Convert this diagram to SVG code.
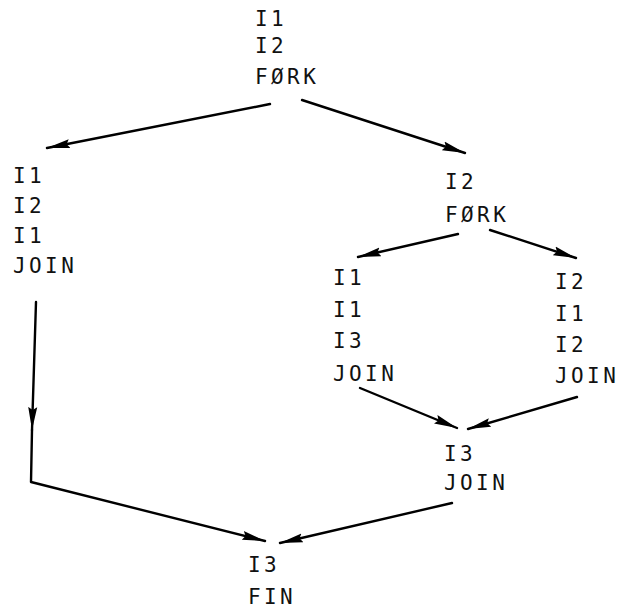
<svg xmlns="http://www.w3.org/2000/svg" width="621" height="610" viewBox="0 0 621 610">
<style>
  text { font-family: "DejaVu Sans Mono", "Liberation Mono", monospace; font-size: 21px; letter-spacing: 3.4px; fill: #111; }
  .edge { fill: none; stroke: #000; stroke-width: 2.4; stroke-linecap: round; stroke-linejoin: round; }
</style>
<defs>
  <marker id="ah" markerUnits="userSpaceOnUse" markerWidth="24" markerHeight="10" refX="23" refY="5" orient="auto">
    <path d="M0,0.5 L23,5 L0,9.5 L3,5 z" fill="#000"/>
  </marker>
</defs>
<rect width="621" height="610" fill="#fff"/>
<g id="connectors">
  <line class="edge" x1="270" y1="104" x2="47" y2="148" marker-end="url(#ah)"/>
  <line class="edge" x1="302" y1="100" x2="465" y2="153" marker-end="url(#ah)"/>
  <line class="edge" x1="458" y1="234" x2="358" y2="257" marker-end="url(#ah)"/>
  <line class="edge" x1="490" y1="230" x2="576" y2="258" marker-end="url(#ah)"/>
  <line class="edge" x1="360" y1="388" x2="457" y2="428" marker-end="url(#ah)"/>
  <line class="edge" x1="577" y1="397" x2="468" y2="429" marker-end="url(#ah)"/>
  <line class="edge" x1="36" y1="302" x2="32" y2="430" marker-end="url(#ah)"/>
  <polyline class="edge" points="32,430 31,482 265,541" marker-end="url(#ah)"/>
  <line class="edge" x1="452" y1="503" x2="280" y2="543" marker-end="url(#ah)"/>
</g>
<g id="n-top">
  <text x="255" y="26">I1</text>
  <text x="255" y="53">I2</text>
  <text x="255" y="84">FØRK</text>
</g>
<g id="n-left">
  <text x="13" y="183">I1</text>
  <text x="13" y="213">I2</text>
  <text x="13" y="243">I1</text>
  <text x="13" y="273">JOIN</text>
</g>
<g id="n-fork2">
  <text x="445" y="189">I2</text>
  <text x="445" y="222">FØRK</text>
</g>
<g id="n-mid-left">
  <text x="333" y="285">I1</text>
  <text x="333" y="317">I1</text>
  <text x="333" y="348">I3</text>
  <text x="333" y="381">JOIN</text>
</g>
<g id="n-mid-right">
  <text x="555" y="289">I2</text>
  <text x="555" y="321">I1</text>
  <text x="555" y="352">I2</text>
  <text x="555" y="383">JOIN</text>
</g>
<g id="n-join">
  <text x="444" y="461">I3</text>
  <text x="444" y="490">JOIN</text>
</g>
<g id="n-fin">
  <text x="248" y="572">I3</text>
  <text x="248" y="604">FIN</text>
</g>
</svg>
